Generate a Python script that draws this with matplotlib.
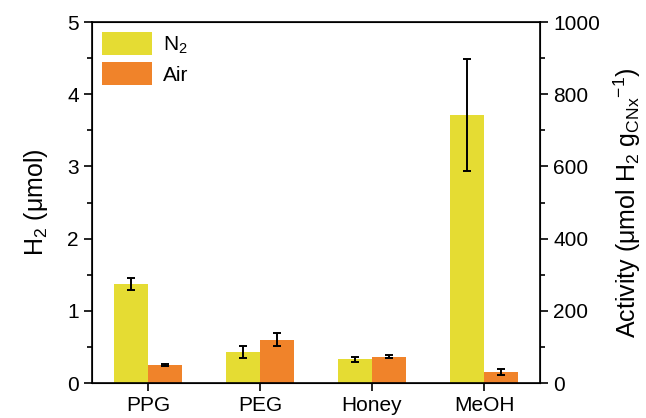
import matplotlib
matplotlib.use('Agg')
import matplotlib.pyplot as plt
import numpy as np
from matplotlib.ticker import MultipleLocator

plt.rcParams['font.family'] = ['Liberation Sans', 'DejaVu Sans']
plt.rcParams['mathtext.fontset'] = 'custom'
plt.rcParams['mathtext.rm'] = 'Liberation Sans'
plt.rcParams['mathtext.it'] = 'Liberation Sans:italic'

# H2 evolved (umol)
categories = ['PPG', 'PEG', 'Honey', 'MeOH']
n2_vals = [1.37, 0.43, 0.33, 3.71]
n2_err = [0.085, 0.08, 0.035, 0.78]
air_vals = [0.25, 0.60, 0.365, 0.15]
air_err = [0.01, 0.09, 0.02, 0.04]

yellow = '#E5DC33'
orange = '#F0832A'

fig = plt.figure(figsize=(6.46, 4.18), dpi=100)
ax1 = fig.add_axes([0.1424, 0.0837, 0.6936, 0.8636])

x = np.arange(len(categories))
width = 0.3
err_kw = dict(ecolor='black', elinewidth=1.4, capsize=3.2, capthick=1.4)
ax1.bar(x - width / 2, n2_vals, width, yerr=n2_err, color=yellow, label='N$_2$', error_kw=err_kw)
ax1.bar(x + width / 2, air_vals, width, yerr=air_err, color=orange, label='Air', error_kw=err_kw)

ax1.set_xlim(-0.5, 3.5)
ax1.set_ylim(0, 5)
ax1.set_xticks(x)
ax1.set_xticklabels(categories)
ax1.yaxis.set_major_locator(MultipleLocator(1))
ax1.yaxis.set_minor_locator(MultipleLocator(0.5))
ax1.tick_params(axis='both', which='major', direction='out', length=6, width=1.2, labelsize=15)
ax1.tick_params(axis='y', which='minor', direction='out', length=3.5, width=1.2)
ax1.set_ylabel('H$_2$ (μmol)', fontsize=18, labelpad=12)
for s in ax1.spines.values():
    s.set_linewidth(1.2)

# right axis: activity scale
ax2 = ax1.twinx()
ax2.set_ylim(0, 1000)
ax2.yaxis.set_major_locator(MultipleLocator(200))
ax2.yaxis.set_minor_locator(MultipleLocator(100))
ax2.tick_params(axis='y', which='major', direction='out', length=6, width=1.2, labelsize=15)
ax2.tick_params(axis='y', which='minor', direction='out', length=3.5, width=1.2)
ax2.set_ylabel('Activity (μmol H$_2$ g$_{\\mathrm{CNx}}$$^{-1}$)', fontsize=18, labelpad=8)

ax1.legend(loc='upper left', frameon=False, fontsize=15, handlelength=2.4, handleheight=1.3,
           borderaxespad=0.2, borderpad=0.3, labelspacing=0.3, handletextpad=0.5)

plt.savefig('out.png', dpi=100)
